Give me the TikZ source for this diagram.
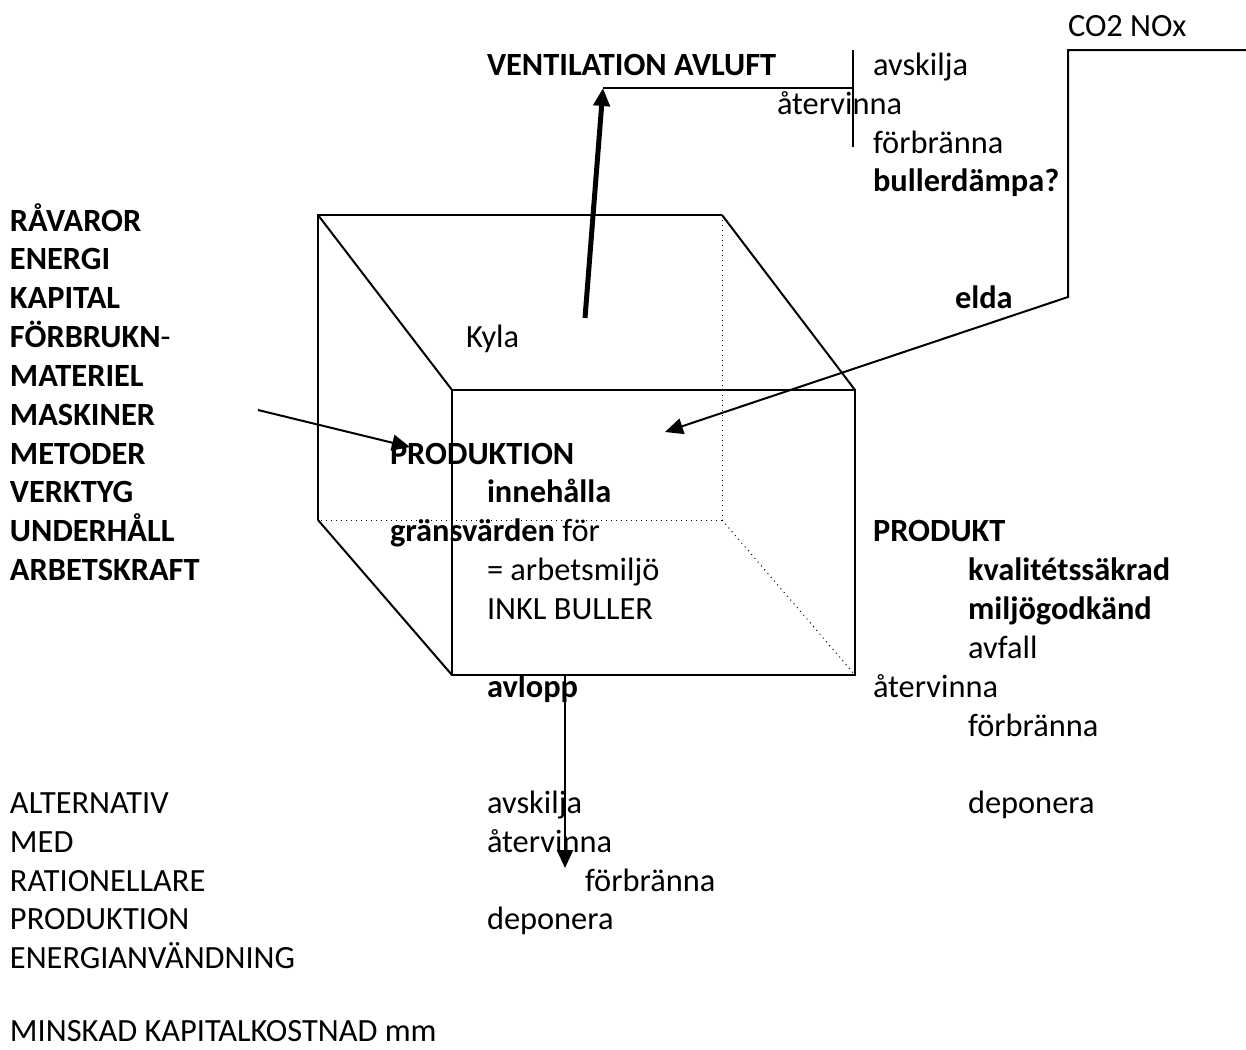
\documentclass[tikz,border=0pt]{standalone}
\usepackage{fontspec}
\setmainfont{Carlito}
\usetikzlibrary{arrows.meta}
\tikzset{txt/.style={anchor=base west,inner sep=0pt,outer sep=0pt,font=\fontsize{16.2}{19.5}\selectfont}}
\tikzset{bold/.style={txt,font=\fontsize{16.2}{19.5}\selectfont\bfseries}}
\tikzset{edge/.style={black,line width=1pt}}
\tikzset{hidden/.style={black,line width=0.5pt,dotted}}
\tikzset{flow/.style={black,line width=1pt,-{Triangle[length=9pt,width=8pt]}}}
\tikzset{bigflow/.style={black,line width=2.5pt,-{Triangle[length=9pt,width=8pt]}}}

\begin{document}
\begin{tikzpicture}[x=0.5pt,y=-0.5pt]
                \useasboundingbox (0,0) rectangle (1246,1049);
                % cube corners
                \coordinate (btl) at (318,215);
                \coordinate (btr) at (722,215);
                \coordinate (bbl) at (318,520);
                \coordinate (bbr) at (722,520);
                \coordinate (ftl) at (452,390);
                \coordinate (ftr) at (855,390);
                \coordinate (fbl) at (452,675);
                \coordinate (fbr) at (855,675);
                \draw[edge] (bbl) -- (btl) -- (btr);
                \draw[hidden] (btr) -- (bbr) -- (bbl);
                \draw[hidden] (bbr) -- (fbr);
                \draw[edge] (btl) -- (ftl);
                \draw[edge] (btr) -- (ftr);
                \draw[edge] (bbl) -- (fbl);
                \draw[edge] (ftl) -- (ftr) -- (fbr) -- (fbl) -- cycle;

                % left column
                \node[bold] (ravaror) at (10,231) {RÅVAROR};
                \node[bold] (energi) at (10,269) {ENERGI};
                \node[bold] (kapital) at (10,308) {KAPITAL};
                \node[bold] (forbrukn) at (10,347) {FÖRBRUKN\textmd{-}};
                \node[bold] (materiel) at (10,386) {MATERIEL};
                \node[bold] (maskiner) at (10,425) {MASKINER};
                \node[bold] (metoder) at (10,464) {METODER};
                \node[bold] (verktyg) at (10,502) {VERKTYG};
                \node[bold] (underhall) at (10,541) {UNDERHÅLL};
                \node[bold] (arbetskraft) at (10,580) {ARBETSKRAFT};

                \node[txt] (alternativ) at (10,813) {ALTERNATIV};
                \node[txt] (med) at (10,852) {MED};
                \node[txt] (rationellare) at (10,891) {RATIONELLARE};
                \node[txt] (produktion2) at (10,929) {PRODUKTION};
                \node[txt] (energianv) at (10,968) {ENERGIANVÄNDNING};
                \node[txt] (minskad) at (10,1041) {MINSKAD KAPITALKOSTNAD mm};

                % inside the cube
                \node[txt] (kyla) at (466,347) {Kyla};
                \node[bold] (produktion) at (390,464) {PRODUKTION};
                \node[bold] (innehalla) at (487,502) {innehålla};
                \node[txt] (gransvarden) at (390,541) {\textbf{gränsvärden} för};
                \node[txt] (arbetsmiljo) at (487,580) {= arbetsmiljö};
                \node[txt] (buller) at (487,619) {INKL BULLER};
                \node[bold] (avlopp) at (487,697) {avlopp};

                % below
                \node[txt] (avskilja2) at (487,813) {avskilja};
                \node[txt] (atervinna2) at (487,852) {återvinna};
                \node[txt] (forbranna2) at (585,891) {förbränna};
                \node[txt] (deponera2) at (487,929) {deponera};

                % product
                \node[bold] (produkt) at (873,541) {PRODUKT};
                \node[bold] (kvalitet) at (968,580) {kvalitétssäkrad};
                \node[bold] (miljogodkand) at (968,619) {miljögodkänd};
                \node[txt] (avfall) at (968,658) {avfall};
                \node[txt] (atervinna3) at (873,697) {återvinna};
                \node[txt] (forbranna3) at (968,736) {förbränna};
                \node[txt] (deponera3) at (968,813) {deponera};

                % top
                \node[bold] (ventilation) at (487,75) {VENTILATION AVLUFT};
                \node[txt] (avskilja1) at (873,75) {avskilja};
                \node[txt] (atervinna1) at (777,114) {återvinna};
                \node[txt] (forbranna1) at (873,153) {förbränna};
                \node[bold] (bullerdampa) at (873,191) {bullerdämpa?};
                \node[bold] (elda) at (955,308) {elda};
                \node[txt] (co2) at (1068,36) {CO2 NOx};

                % connectors
                \coordinate (vstart) at (585,318);
                \coordinate (vtip) at (603,88);
                \coordinate (vbar) at (853,88);
                \coordinate (vtop) at (853,50);
                \coordinate (vbot) at (853,147);
                \draw[bigflow] (vstart) -- (vtip);
                \draw[edge] (vtip) -- (vbar);
                \draw[edge] (vtop) -- (vbot);

                \coordinate (cright) at (1246,50);
                \coordinate (ccorner) at (1068,50);
                \coordinate (celda) at (1068,297);
                \coordinate (ctip) at (665,432);
                \draw[flow] (cright) -- (ccorner) -- (celda) -- (ctip);

                \coordinate (instart) at (258,410);
                \coordinate (intip) at (410,447);
                \draw[flow] (instart) -- (intip);

                \coordinate (avtop) at (565,675);
                \coordinate (avtip) at (565,868);
                \draw[flow] (avtop) -- (avtip);
                \end{tikzpicture}
\end{document}
